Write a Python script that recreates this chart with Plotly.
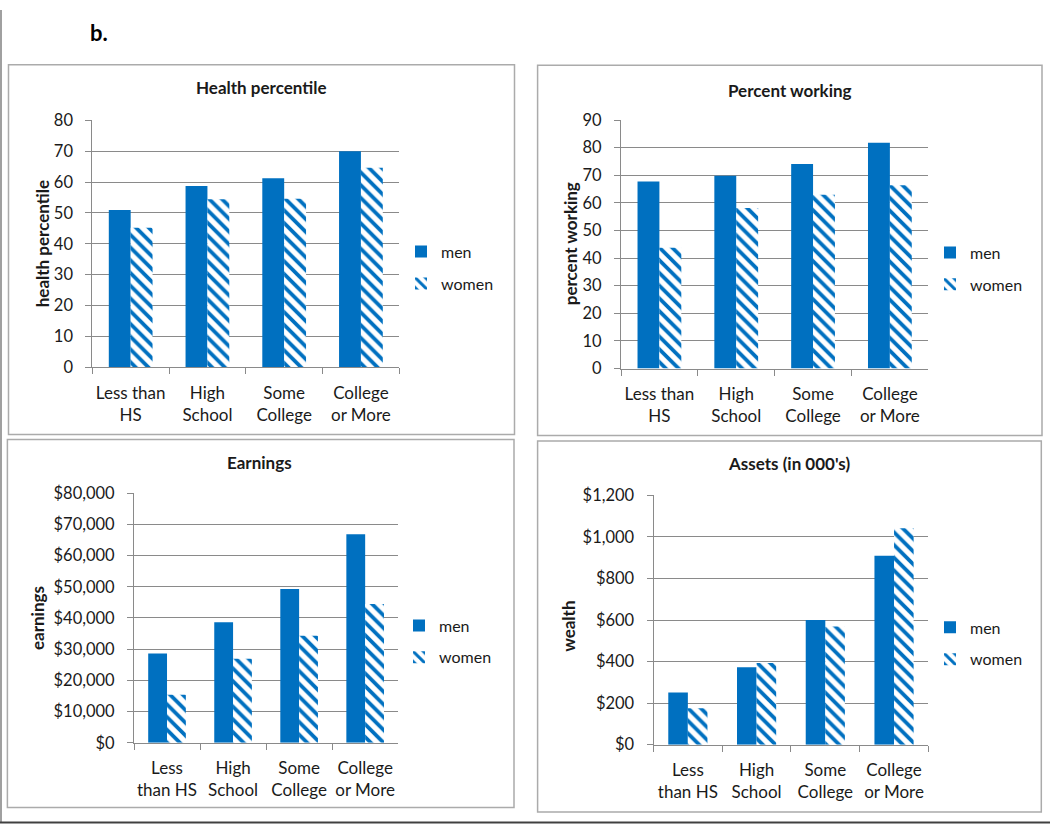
import plotly.graph_objects as go

# ---------------- data ----------------
categories_top = ["Less than<br>HS", "High<br>School", "Some<br>College", "College<br>or More"]
categories_bottom = ["Less<br>than HS", "High<br>School", "Some<br>College", "College<br>or More"]
series_names = ["men", "women"]

health_men = [50.9, 58.7, 61.2, 70.0]
health_women = [45.2, 54.4, 54.6, 64.6]

working_men = [67.7, 69.8, 74.1, 81.8]
working_women = [43.7, 58.1, 62.9, 66.4]

earnings_men = [28600, 38600, 49300, 66800]
earnings_women = [15400, 26900, 34300, 44500]

assets_men = [251, 373, 600, 910]
assets_women = [175, 393, 569, 1042]

panel_titles = ["Health percentile", "Percent working", "Earnings", "Assets (in 000's)"]
y_titles = ["health percentile", "percent working", "earnings", "wealth"]

# ---------------- style ----------------
W, H = 1050, 835
BLUE = "#0070C0"
GRID = "#8a8a8a"
TXT = "#1a1a1a"
FONT = "Lato, Carlito, Calibri, sans-serif"


def px(x):
    return x / W


def py(y):
    return 1 - y / H


# pixel geometry of each panel
panels = [
    dict(plot=(92.3, 399.3, 113.0, 366.0), box=(8.5, 514.5, 56, 435),
         title=(261, 79), ytitle=(42, 240), legend=(401, 264)),
    dict(plot=(621.0, 928.3, 112.7, 367.3), box=(537.6, 1042, 56.7, 436),
         title=(790, 82), ytitle=(570, 240), legend=(930, 265)),
    dict(plot=(134.0, 398.2, 495.0, 750.7), box=(7.4, 514, 440, 817),
         title=(259.6, 464), ytitle=(37, 623), legend=(399, 647)),
    dict(plot=(653.5, 928.4, 497.3, 752.7), box=(537.6, 1041.3, 441.7, 821.7),
         title=(789, 465), ytitle=(569, 632), legend=(930, 649)),
]

datasets = [
    (categories_top, health_men, health_women, [0, 80], 10, "", ""),
    (categories_top, working_men, working_women, [0, 90], 10, "", ""),
    (categories_bottom, earnings_men, earnings_women, [0, 80000], 10000, "$", ","),
    (categories_bottom, assets_men, assets_women, [0, 1200], 200, "$", ","),
]

fig = go.Figure()
layout = dict(
    width=W, height=H, autosize=False,
    margin=dict(l=0, r=0, t=0, b=0),
    paper_bgcolor="white", plot_bgcolor="white",
    barmode="group", bargap=0.43, bargroupgap=0.0,
    font=dict(family=FONT, size=17, color=TXT),
)

annotations = []
shapes = []

for i, (p, d) in enumerate(zip(panels, datasets)):
    cats, men, women, yr, dt, pre, fmt = d
    n = "" if i == 0 else str(i + 1)
    xa, ya = "x" + n, "y" + n
    leg = "legend" + n

    fig.add_trace(go.Bar(
        x=cats, y=men, name=series_names[0], xaxis=xa, yaxis=ya,
        marker=dict(color=BLUE, line=dict(width=0)),
        legend=leg, legendgroup="m" + str(i), showlegend=True,
    ))
    fig.add_trace(go.Bar(
        x=cats, y=women, name=series_names[1], xaxis=xa, yaxis=ya,
        marker=dict(color=BLUE, line=dict(width=0),
                    pattern=dict(shape="\\", fgcolor=BLUE, bgcolor="white",
                                 size=9, solidity=0.42, fillmode="replace")),
        legend=leg, legendgroup="w" + str(i), showlegend=True,
    ))

    x0, x1, y0, y1 = p["plot"]
    layout["xaxis" + n] = dict(
        domain=[px(x0), px(x1)], anchor=ya, type="category",
        showline=True, linecolor=GRID, linewidth=1,
        ticks="outside", tickson="boundaries", ticklen=6, tickcolor=GRID,
        showgrid=False, zeroline=False, ticklabelstandoff=10, tickangle=0,
        tickfont=dict(family=FONT, size=17, color=TXT),
        fixedrange=True,
    )
    layout["yaxis" + n] = dict(
        domain=[py(y1), py(y0)], anchor=xa, range=yr, dtick=dt,
        tickprefix=pre, tickformat=fmt,
        showline=True, linecolor=GRID, linewidth=1,
        ticks="outside", ticklen=6, tickcolor=GRID,
        showgrid=True, gridcolor=GRID, gridwidth=1, zeroline=False,
        ticklabelstandoff=9,
        tickfont=dict(family=FONT, size=16.5, color=TXT),
        fixedrange=True,
    )
    lx, ly = p["legend"]
    layout[leg] = dict(
        x=px(lx), y=py(ly), xanchor="left", yanchor="middle",
        xref="paper", yref="paper",
        bgcolor="rgba(0,0,0,0)", borderwidth=0, tracegroupgap=8,
        font=dict(family=FONT, size=16, color=TXT),
        orientation="v",
    )

    tx, ty = p["title"]
    annotations.append(dict(
        text="<b>" + panel_titles[i] + "</b>", x=px(tx), y=py(ty),
        xref="paper", yref="paper", showarrow=False,
        xanchor="center", yanchor="middle",
        font=dict(family=FONT, size=17, color=TXT),
    ))
    yx, yy = p["ytitle"]
    annotations.append(dict(
        text="<b>" + y_titles[i] + "</b>", x=px(yx), y=py(yy),
        xref="paper", yref="paper", showarrow=False, textangle=-90,
        xanchor="center", yanchor="middle",
        font=dict(family=FONT, size=17, color=TXT),
    ))
    bx0, bx1, by0, by1 = p["box"]
    shapes.append(dict(
        type="rect", xref="paper", yref="paper",
        x0=px(bx0), x1=px(bx1), y0=py(by1), y1=py(by0),
        line=dict(color="#ababab", width=1.5), fillcolor="rgba(0,0,0,0)",
        layer="below",
    ))

annotations.append(dict(
    text="<b>b.</b>", x=px(99), y=py(23), xref="paper", yref="paper",
    showarrow=False, xanchor="center", yanchor="middle",
    font=dict(family=FONT, size=22, color="#000000"),
))

# outer frame (left and bottom edges)
shapes.append(dict(type="line", xref="paper", yref="paper",
                   x0=px(1), x1=px(1), y0=py(833), y1=py(0),
                   line=dict(color="#808080", width=1.5)))
shapes.append(dict(type="line", xref="paper", yref="paper",
                   x0=px(0), x1=px(1050), y0=py(832.5), y1=py(832.5),
                   line=dict(color="#404040", width=2)))

layout["annotations"] = annotations
layout["shapes"] = shapes
fig.update_layout(**layout)

fig.write_html(
    "out.html",
    config={"displayModeBar": False},
    post_script="document.body.style.margin='0';document.body.style.overflow='hidden';",
)
